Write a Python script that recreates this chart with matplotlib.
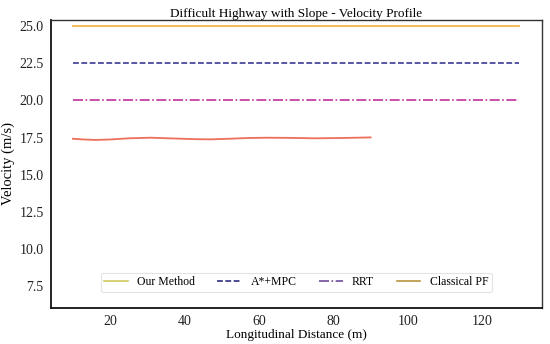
import numpy as np
import matplotlib; matplotlib.use('Agg')
import matplotlib.pyplot as plt
from matplotlib.lines import Line2D

plt.rcParams['font.family'] = ['Liberation Serif', 'DejaVu Serif']

# data
x_full = [10, 130]
v_ours = [25.0, 25.0]
v_astar = [22.5, 22.5]
v_rrt = [20.0, 20.0]
x_pf = [10, 13, 16, 20, 25, 31, 37, 43, 47, 52, 57, 62, 68, 75, 82, 90]
v_pf = [17.42, 17.37, 17.34, 17.37, 17.45, 17.49, 17.44, 17.39, 17.38, 17.42, 17.47, 17.49, 17.48, 17.45, 17.47, 17.51]
labels = ["Our Method", "A*+MPC", "RRT", "Classical PF"]

fig = plt.figure(figsize=(5.5, 3.44), dpi=100)
ax = fig.add_axes([0.092, 0.105, 0.893, 0.838])
ax.plot(x_full, v_ours, color="#f5b547", lw=1.3)
ax.plot(x_full, v_astar, color="#3a3a96", lw=1.2, ls=(0, (3.5, 1.5)))
ax.plot(x_full, v_rrt, color="#c0309a", lw=1.2, ls=(0, (6, 1.5, 1, 1.5)))
ax.plot(x_pf, v_pf, color="#ee6f5a", lw=1.3)

ax.set_xlim(4, 136)
ax.set_ylim(6.05, 25.43)
ax.set_xticks([20, 40, 60, 80, 100, 120])
ax.set_yticks([7.5, 10.0, 12.5, 15.0, 17.5, 20.0, 22.5, 25.0])
ax.set_yticklabels(["%.1f" % t for t in ax.get_yticks()])
ax.tick_params(labelsize=10, length=0, pad=5, colors="#222222")
ax.set_xlabel("Longitudinal Distance (m)", fontsize=9.5, labelpad=1)
ax.set_ylabel("Velocity (m/s)", fontsize=10.5, labelpad=3)
ax.set_title("Difficult Highway with Slope - Velocity Profile", fontsize=9.5, pad=2)
for k in ['left', 'bottom']:
    ax.spines[k].set_color("#111111"); ax.spines[k].set_linewidth(1.3)
for k in ['top', 'right']:
    ax.spines[k].set_color("#333333"); ax.spines[k].set_linewidth(1.0)

handles = [Line2D([], [], color="#d2c862", lw=1.2),
           Line2D([], [], color="#2e2e80", lw=1.2, ls=(0, (3.5, 1.5))),
           Line2D([], [], color="#6f4a9c", lw=1.2, ls=(0, (6, 1.5, 1, 1.5))),
           Line2D([], [], color="#b8953c", lw=1.2)]
leg = ax.legend(handles, labels, loc='lower center', bbox_to_anchor=(0.5, 0.035), ncol=4,
                fontsize=8.5, frameon=True, handlelength=2.0, columnspacing=1.9,
                borderpad=0.3, handletextpad=0.8)
leg.get_frame().set_edgecolor("#dddddd"); leg.get_frame().set_linewidth(0.8)

plt.savefig("out.png", dpi=100)
plt.close()
